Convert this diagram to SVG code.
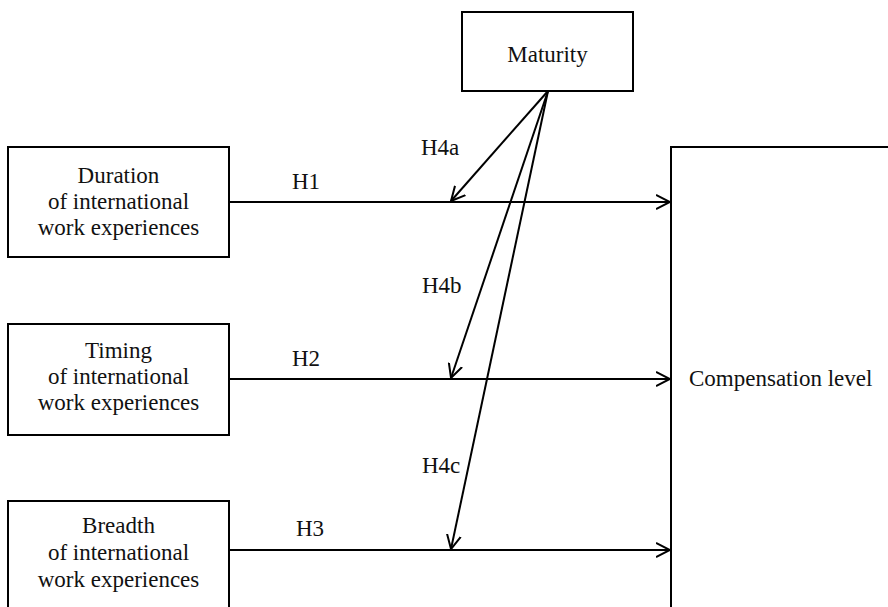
<svg xmlns="http://www.w3.org/2000/svg" width="888" height="607" viewBox="0 0 888 607">
<style>
.box{fill:#fff;stroke:#000;stroke-width:2}
.t{font-family:"Liberation Serif","Times New Roman",serif;font-size:23px;fill:#111}
.c{text-anchor:middle}
.ln{stroke:#000;stroke-width:2;fill:none}
</style>
<defs>
<marker id="ah" markerUnits="userSpaceOnUse" markerWidth="16" markerHeight="16" refX="14" refY="8" orient="auto" viewBox="0 0 16 16">
<path d="M0,1 L14,8 L0,15" fill="none" stroke="#000" stroke-width="2"/>
</marker>
</defs>
<rect width="888" height="607" fill="#fff"/>
<g id="comp">
<rect class="box" x="671" y="147" width="240" height="480"/>
<text class="t" x="689" y="386">Compensation level</text>
</g>
<g id="maturity">
<rect class="box" x="462" y="12" width="171" height="79"/>
<text class="t c" x="547.5" y="62">Maturity</text>
</g>
<g id="duration">
<rect class="box" x="8" y="147" width="221" height="110"/>
<text class="t c" x="118.5" y="183">Duration</text>
<text class="t c" x="118.5" y="209">of international</text>
<text class="t c" x="118.5" y="235">work experiences</text>
</g>
<g id="timing">
<rect class="box" x="8" y="324" width="221" height="111"/>
<text class="t c" x="118.5" y="358">Timing</text>
<text class="t c" x="118.5" y="384">of international</text>
<text class="t c" x="118.5" y="410">work experiences</text>
</g>
<g id="breadth">
<rect class="box" x="8" y="501" width="221" height="120"/>
<text class="t c" x="118.5" y="533">Breadth</text>
<text class="t c" x="118.5" y="560">of international</text>
<text class="t c" x="118.5" y="587">work experiences</text>
</g>
<g id="connectors">
<line class="ln" x1="229" y1="202" x2="670" y2="202" marker-end="url(#ah)"/>
<line class="ln" x1="229" y1="379" x2="670" y2="379" marker-end="url(#ah)"/>
<line class="ln" x1="229" y1="550" x2="670" y2="550" marker-end="url(#ah)"/>
<line class="ln" x1="548" y1="91" x2="451" y2="201" marker-end="url(#ah)"/>
<line class="ln" x1="548" y1="91" x2="451" y2="378" marker-end="url(#ah)"/>
<line class="ln" x1="548" y1="91" x2="451" y2="549" marker-end="url(#ah)"/>
<text class="t" x="292" y="189">H1</text>
<text class="t" x="292" y="366">H2</text>
<text class="t" x="296" y="536">H3</text>
<text class="t" x="421" y="155">H4a</text>
<text class="t" x="422" y="293">H4b</text>
<text class="t" x="422" y="473">H4c</text>
</g>
</svg>
